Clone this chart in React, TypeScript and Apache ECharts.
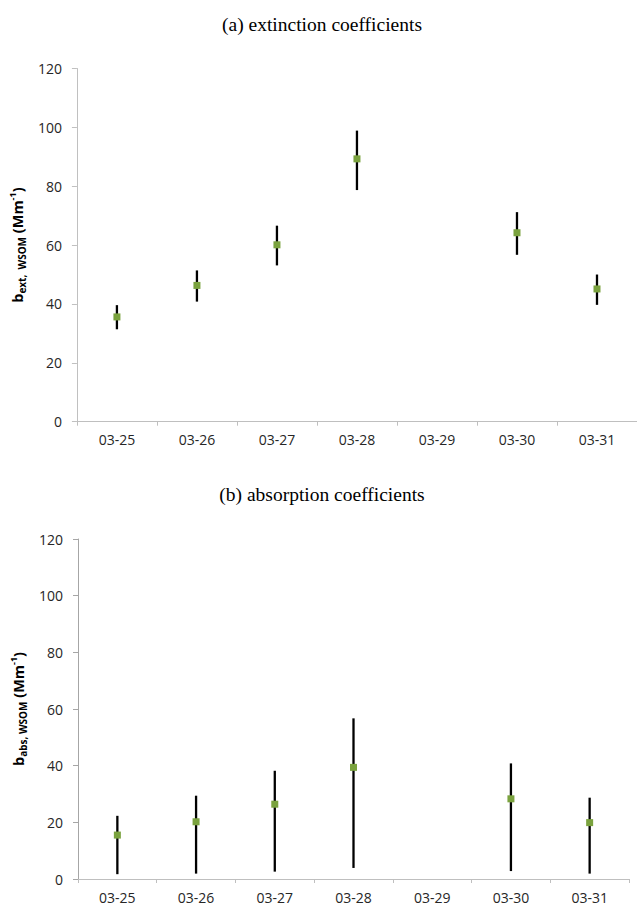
import React, { useEffect, useRef } from "react";
import * as echarts from "echarts";

const categories = ["03-25", "03-26", "03-27", "03-28", "03-29", "03-30", "03-31"];
const yTicks = [0, 20, 40, 60, 80, 100, 120];

const extMean = [35.6, 46.3, 60.1, 89.3, null, 64.2, 45.1];
const extLow = [31.4, 40.8, 53.1, 78.7, null, 56.7, 39.7];
const extHigh = [39.6, 51.4, 66.6, 98.9, null, 71.2, 50.0];

const absMean = [15.5, 20.2, 26.4, 39.4, null, 28.3, 19.9];
const absLow = [1.7, 1.9, 2.6, 3.9, null, 2.8, 1.9];
const absHigh = [22.3, 29.4, 38.2, 56.7, null, 40.8, 28.7];

const titleA = "(a) extinction coefficients";
const titleB = "(b) absorption coefficients";

const SANS = '"Open Sans", "Liberation Sans", sans-serif';
const SERIF = '"Liberation Serif", "Times New Roman", serif';
const GREEN = "#7aa23e";

function errData(lo: (number | null)[], hi: (number | null)[]) {
  const out: number[][] = [];
  lo.forEach((l, i) => {
    const h = hi[i];
    if (l != null && h != null) out.push([i, l, h]);
  });
  return out;
}

function meanData(m: (number | null)[]) {
  return m.map((v) => (v == null ? "-" : v));
}

const richName = {
  m: { fontFamily: SANS, fontSize: 14.5, fontWeight: "bold", color: "#000", lineHeight: 19, verticalAlign: "middle" },
  sub: { fontFamily: SANS, fontSize: 10, fontWeight: "bold", color: "#000", lineHeight: 11, verticalAlign: "bottom" },
  sup: { fontFamily: SANS, fontSize: 9, fontWeight: "bold", color: "#000", lineHeight: 11, verticalAlign: "top" },
};

function yAxisCfg(gridIndex: number, name: string, axisColor: string, nameGap: number) {
  return {
    type: "value",
    gridIndex,
    min: 0,
    max: 120,
    interval: 20,
    name,
    nameLocation: "middle",
    nameRotate: 90,
    nameGap,
    nameTextStyle: { rich: richName },
    axisLine: { show: true, lineStyle: { color: axisColor, width: 1 } },
    axisTick: { show: true, inside: false, length: 5, lineStyle: { color: axisColor } },
    axisLabel: {
      margin: 15,
      fontFamily: SANS,
      fontSize: 14,
      color: "#262626",
      formatter: (v: number) => (yTicks.includes(v) ? String(v) : ""),
    },
    splitLine: { show: false },
  };
}

function xAxisCfg(gridIndex: number) {
  return {
    type: "category",
    gridIndex,
    data: categories,
    boundaryGap: true,
    axisLine: { show: true, lineStyle: { color: "#bfbfbf", width: 1 } },
    axisTick: { show: true, alignWithLabel: false, length: 4, lineStyle: { color: "#bfbfbf" } },
    axisLabel: { margin: 11, fontFamily: SANS, fontSize: 14, color: "#262626", interval: 0 },
    splitLine: { show: false },
  };
}

function errSeries(idx: number, lo: (number | null)[], hi: (number | null)[]) {
  return {
    type: "custom",
    xAxisIndex: idx,
    yAxisIndex: idx,
    z: 2,
    data: errData(lo, hi),
    encode: { x: 0, y: [1, 2] },
    renderItem: (params: any, api: any) => {
      const x = api.value(0);
      const p1 = api.coord([x, api.value(1)]);
      const p2 = api.coord([x, api.value(2)]);
      return {
        type: "line",
        shape: { x1: p1[0], y1: p1[1], x2: p2[0], y2: p2[1] },
        style: { stroke: "#000", lineWidth: 2.3 },
      };
    },
  };
}

function meanSeries(idx: number, m: (number | null)[]) {
  return {
    type: "scatter",
    xAxisIndex: idx,
    yAxisIndex: idx,
    z: 5,
    symbol: "rect",
    symbolSize: 7,
    itemStyle: { color: GREEN, opacity: 1 },
    data: meanData(m),
  };
}

export default function App() {
  const ref = useRef<HTMLDivElement>(null);
  useEffect(() => {
    if (!ref.current) return;
    const chart = echarts.init(ref.current, undefined, { renderer: "svg" });
    chart.setOption({
      animation: false,
      backgroundColor: "#fff",
      grid: [
        { left: 71, top: 68.5, width: 569, height: 353.2 },
        { left: 78, top: 539, width: 551, height: 340 },
      ],
      xAxis: [xAxisCfg(0), xAxisCfg(1)],
      yAxis: [
        yAxisCfg(0, "{m|b}{sub|ext,  WSOM}{m| (Mm}{sup|-1}{m|)}", "#c0c0c0", 43),
        yAxisCfg(1, "{m|b}{sub|abs, WSOM}{m| (Mm}{sup|-1}{m|)}", "#a6a6a6", 40),
      ],
      graphic: [
        {
          type: "text",
          x: 322,
          y: 24,
          style: { text: titleA, font: `19.5px ${SERIF}`, fill: "#000", textAlign: "center", textVerticalAlign: "middle" },
        },
        {
          type: "text",
          x: 322,
          y: 494,
          style: { text: titleB, font: `19.5px ${SERIF}`, fill: "#000", textAlign: "center", textVerticalAlign: "middle" },
        },
      ],
      series: [errSeries(0, extLow, extHigh), meanSeries(0, extMean), errSeries(1, absLow, absHigh), meanSeries(1, absMean)],
    });
    return () => chart.dispose();
  }, []);
  return <div ref={ref} style={{ position: "fixed", left: 0, top: 0, width: 637, height: 907 }} />;
}
